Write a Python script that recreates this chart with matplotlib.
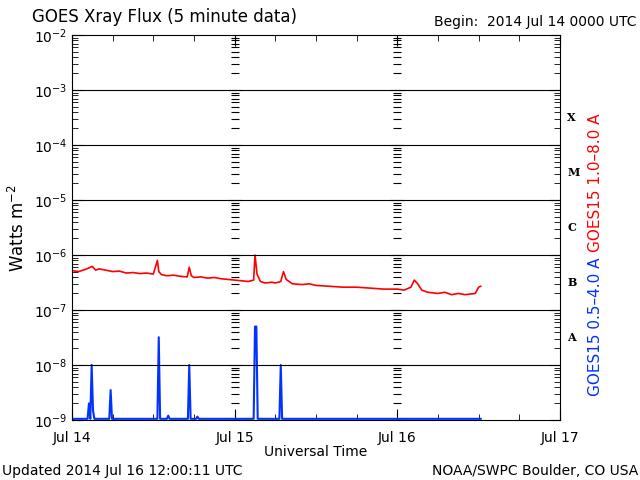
import matplotlib
matplotlib.use("Agg")
import matplotlib.pyplot as plt
import numpy as np

# time in hours since 2014 Jul 14 00:00 UTC
red_t = [0, 1, 2, 3, 3.5, 4, 5, 6, 7, 8, 9, 10, 11, 12, 12.6, 12.8, 13.2, 14, 15, 16, 17.0, 17.3, 17.6, 18, 19, 20, 21, 22, 23, 24, 25, 26, 26.8, 27.0, 27.3, 27.8, 28.5, 29.5, 30, 30.8, 31.2, 31.6, 32.5, 34, 35, 36, 38, 40, 42, 44, 46, 48, 49, 50, 50.5, 51.0, 51.6, 52.5, 54, 55, 56, 57, 58, 59.5, 60, 60.3]
red_v = [5.2e-7, 5.0e-7, 5.5e-7, 6.2e-7, 5.3e-7, 5.6e-7, 5.3e-7, 5.0e-7, 5.1e-7, 4.7e-7, 4.8e-7, 4.6e-7, 4.7e-7, 4.5e-7, 8.0e-7, 5.0e-7, 4.4e-7, 4.2e-7, 4.3e-7, 4.1e-7, 4.0e-7, 6.0e-7, 4.2e-7, 3.9e-7, 4.0e-7, 3.8e-7, 3.9e-7, 3.7e-7, 3.6e-7, 3.5e-7, 3.4e-7, 3.3e-7, 3.5e-7, 1.0e-6, 4.5e-7, 3.3e-7, 3.1e-7, 3.2e-7, 3.1e-7, 3.3e-7, 5.0e-7, 3.6e-7, 3.0e-7, 2.9e-7, 3.0e-7, 2.8e-7, 2.7e-7, 2.6e-7, 2.6e-7, 2.5e-7, 2.4e-7, 2.4e-7, 2.3e-7, 2.6e-7, 3.5e-7, 3.0e-7, 2.3e-7, 2.1e-7, 2.0e-7, 2.1e-7, 1.9e-7, 2.0e-7, 1.9e-7, 2.0e-7, 2.6e-7, 2.7e-7]

blue_t = [0, 2.3, 2.5, 2.7, 2.9, 3.1, 3.3, 3.5, 5.5, 5.7, 5.9, 6.1, 12.6, 12.8, 13.0, 14.0, 14.2, 14.4, 17.1, 17.3, 17.5, 18.3, 18.5, 18.7, 26.8, 27.0, 27.2, 27.4, 30.6, 30.8, 31.0, 36, 48, 60.3]
blue_v = [1.05e-9, 1.05e-9, 2e-9, 1.05e-9, 1e-8, 1.5e-9, 1.05e-9, 1.05e-9, 1.05e-9, 3.5e-9, 1.05e-9, 1.05e-9, 1.05e-9, 3.2e-8, 1.05e-9, 1.05e-9, 1.2e-9, 1.05e-9, 1.05e-9, 1e-8, 1.05e-9, 1.05e-9, 1.15e-9, 1.05e-9, 1.05e-9, 5e-8, 5e-8, 1.05e-9, 1.05e-9, 1e-8, 1.05e-9, 1.05e-9, 1.05e-9, 1.05e-9]

day_labels = ["Jul 14", "Jul 15", "Jul 16", "Jul 17"]
class_labels = ["A", "B", "C", "M", "X"]

fig = plt.figure(figsize=(6.4, 4.8), dpi=100)
ax = fig.add_axes([0.1125, 0.125, 0.7625, 0.802])
ax.set_yscale("log")
ax.set_ylim(1e-9, 1e-2)
ax.set_xlim(0, 72)

ax.plot(red_t, red_v, color="red", lw=1.2)
ax.plot(blue_t, blue_v, color="#0033ff", lw=1.5)

for e in range(-8, -2):
    ax.axhline(10.0**e, color="black", lw=0.8)

minors = [m * 10.0**e for e in range(-9, -2) for m in range(2, 10)]
for xd in (24, 48):
    ax.plot([xd] * len(minors), minors, ls="none", marker="_", ms=6, color="black", mew=0.8)
    ax.plot([xd] * 7, [10.0**e for e in range(-9, -2)], ls="none", marker="_", ms=10, color="black", mew=0.8)

ax.set_xticks([0, 24, 48, 72])
ax.set_xticklabels(day_labels)
ax.set_xticks(np.arange(0, 73, 6), minor=True)
ax.set_yticks([10.0**e for e in range(-9, -1)])
ax.set_yticklabels([r"$10^{%d}$" % e for e in range(-9, -1)])
ax.tick_params(which="both", direction="in", top=True, right=True)
ax.tick_params(which="major", length=8, labelsize=10)
ax.tick_params(axis="x", pad=8)
ax.tick_params(which="minor", length=4)
ax.set_ylabel(r"Watts m$^{-2}$", fontsize=12)
ax.set_xlabel("Universal Time", fontsize=10, labelpad=0)

for i, lab in enumerate(class_labels):
    ax.text(1.015, (i + 1.5) / 7, lab, transform=ax.transAxes, fontsize=8,
            fontfamily="DejaVu Serif", fontweight="bold", va="center", ha="left")

fig.text(0.93, 0.62, "GOES15 1.0\u20138.0 A", color="red", rotation=90, fontsize=11, va="center", ha="center")
fig.text(0.93, 0.32, "GOES15 0.5\u20134.0 A", color="#0033ff", rotation=90, fontsize=11, va="center", ha="center")

fig.text(0.05, 0.955, "GOES Xray Flux (5 minute data)", fontsize=12)
fig.text(0.995, 0.945, "Begin:  2014 Jul 14 0000 UTC", fontsize=10, ha="right")
fig.text(0.003, 0.01, "Updated 2014 Jul 16 12:00:11 UTC", fontsize=10)
fig.text(0.997, 0.01, "NOAA/SWPC Boulder, CO USA", fontsize=10, ha="right")

fig.savefig("out.png", dpi=100)
